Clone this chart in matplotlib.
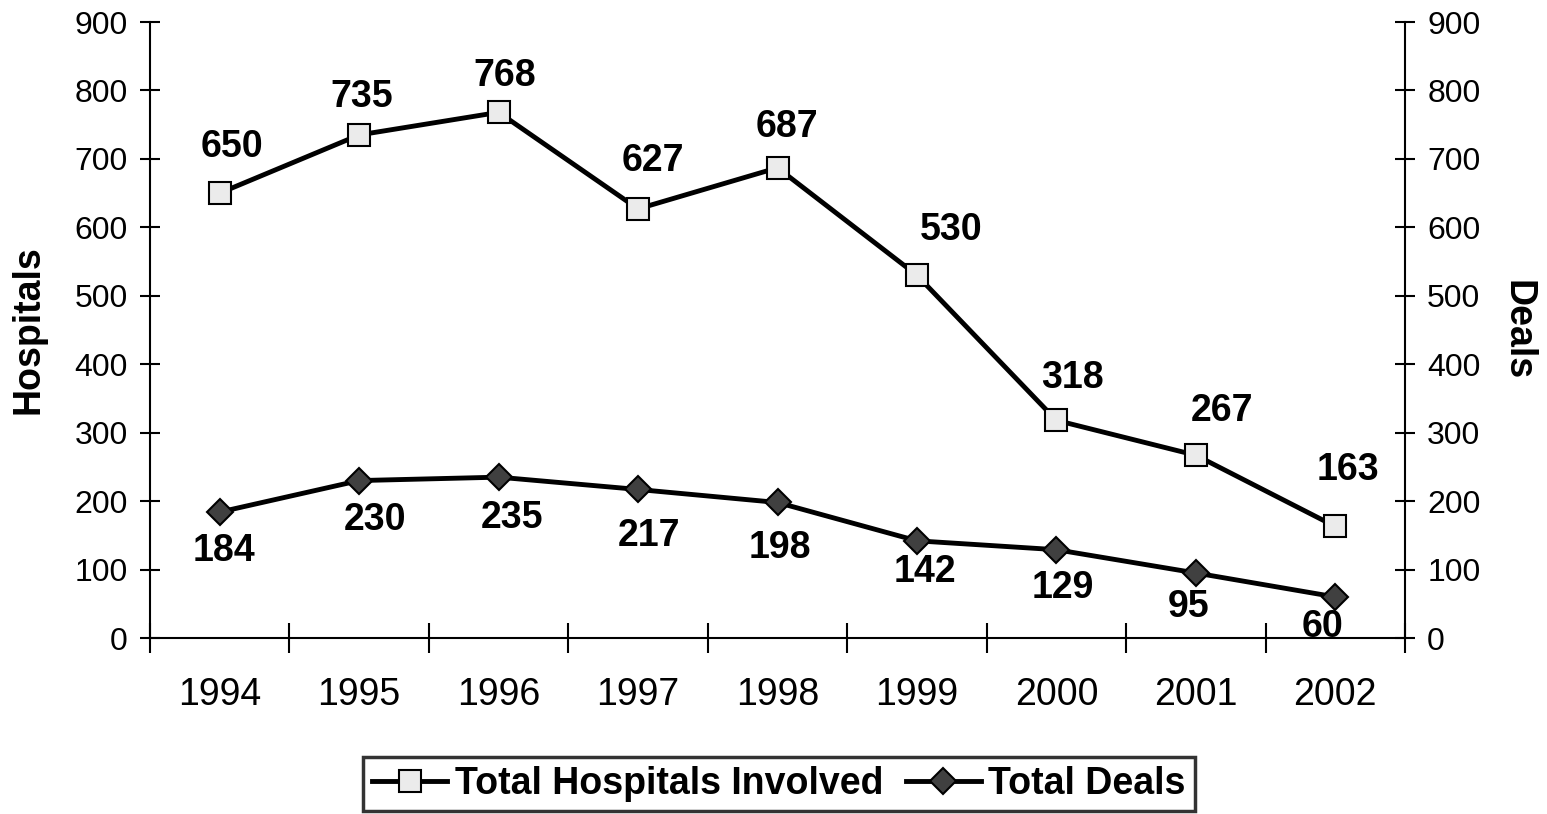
import matplotlib
matplotlib.use("Agg")
import matplotlib.pyplot as plt
from matplotlib.ticker import MultipleLocator, FixedLocator, NullFormatter

plt.rcParams['font.family'] = ['Liberation Sans', 'DejaVu Sans']

years = ['1994', '1995', '1996', '1997', '1998', '1999', '2000', '2001', '2002']
hospitals = [650, 735, 768, 627, 687, 530, 318, 267, 163]
deals = [184, 230, 235, 217, 198, 142, 129, 95, 60]

# label offsets (pixels) relative to each marker, as placed in the original
hosp_dx = [12, 3, 6, 15, 9, 34, 16, 26, 13]
hosp_dy = [46, 38, 36, 48, 41, 45, 42, 44, 56]
deal_dx = [4, 16, 13, 11, 2, 8, 6, -7, -13]
deal_dy = [-39, -39, -41, -47, -46, -31, -38, -34, -30]

W, H = 1547, 814
fig = plt.figure(figsize=(W / 100, H / 100), dpi=100)
ax = fig.add_axes([150 / W, 1 - 638 / H, (1405 - 150) / W, (638 - 22) / H])
x = list(range(len(years)))

l1, = ax.plot(x, hospitals, color='black', lw=3.5, marker='s', markersize=16,
              markerfacecolor='#ebebeb', markeredgecolor='black', markeredgewidth=1.5,
              label='Total Hospitals Involved', clip_on=False, zorder=3)
l2, = ax.plot(x, deals, color='black', lw=3.5, marker='D', markersize=13,
              markerfacecolor='#404040', markeredgecolor='black', markeredgewidth=1.5,
              label='Total Deals', clip_on=False, zorder=3)

px2pt = 0.72
for xi, v, dx, dy in zip(x, hospitals, hosp_dx, hosp_dy):
    ax.annotate(str(v), (xi, v), xytext=(dx * px2pt, dy * px2pt), textcoords='offset points',
                ha='center', va='center', fontsize=27, fontweight='bold')
for xi, v, dx, dy in zip(x, deals, deal_dx, deal_dy):
    ax.annotate(str(v), (xi, v), xytext=(dx * px2pt, dy * px2pt), textcoords='offset points',
                ha='center', va='center', fontsize=27, fontweight='bold')

ax.set_xlim(-0.5, len(years) - 0.5)
ax.set_ylim(0, 900)
ax.yaxis.set_major_locator(MultipleLocator(100))
ax.xaxis.set_major_locator(FixedLocator([i - 0.5 for i in range(len(years) + 1)]))
ax.xaxis.set_major_formatter(NullFormatter())
ax.xaxis.set_minor_locator(FixedLocator(x))
ax.set_xticklabels(years, minor=True, fontsize=27)
ax.tick_params(axis='x', which='minor', length=0, pad=28)
ax.tick_params(axis='x', which='major', direction='inout', length=22, width=1.5)
ax.tick_params(axis='y', direction='inout', length=14, width=1.5, labelsize=23, pad=9)

for s in ['top', 'right']:
    ax.spines[s].set_visible(False)
for s in ['left', 'bottom']:
    ax.spines[s].set_linewidth(1.5)

ax2 = ax.twinx()
ax2.set_ylim(0, 900)
ax2.yaxis.set_major_locator(MultipleLocator(100))
ax2.tick_params(axis='y', direction='inout', length=14, width=1.5, labelsize=23, pad=9)
for s in ['top', 'left', 'bottom']:
    ax2.spines[s].set_visible(False)
ax2.spines['right'].set_linewidth(1.5)

ax.set_ylabel('Hospitals', fontsize=27, fontweight='bold', va='center')
ax.yaxis.set_label_coords((29 - 150) / 1255, 0.5)
ax2.set_ylabel('Deals', fontsize=27, fontweight='bold', rotation=-90, va='center')
ax2.yaxis.set_label_coords((1517 - 150) / 1255, 0.5)

leg = fig.legend(handles=[l1, l2], loc='center', bbox_to_anchor=(779 / W, 1 - 784 / H),
                 ncol=2, frameon=True, fancybox=False, edgecolor='black',
                 prop={'size': 27, 'weight': 'bold'}, handlelength=2.0,
                 columnspacing=0.6, handletextpad=0.2, borderpad=0.25, borderaxespad=0)
leg.get_frame().set_linewidth(2.5)

fig.savefig('out.png', dpi=100)
